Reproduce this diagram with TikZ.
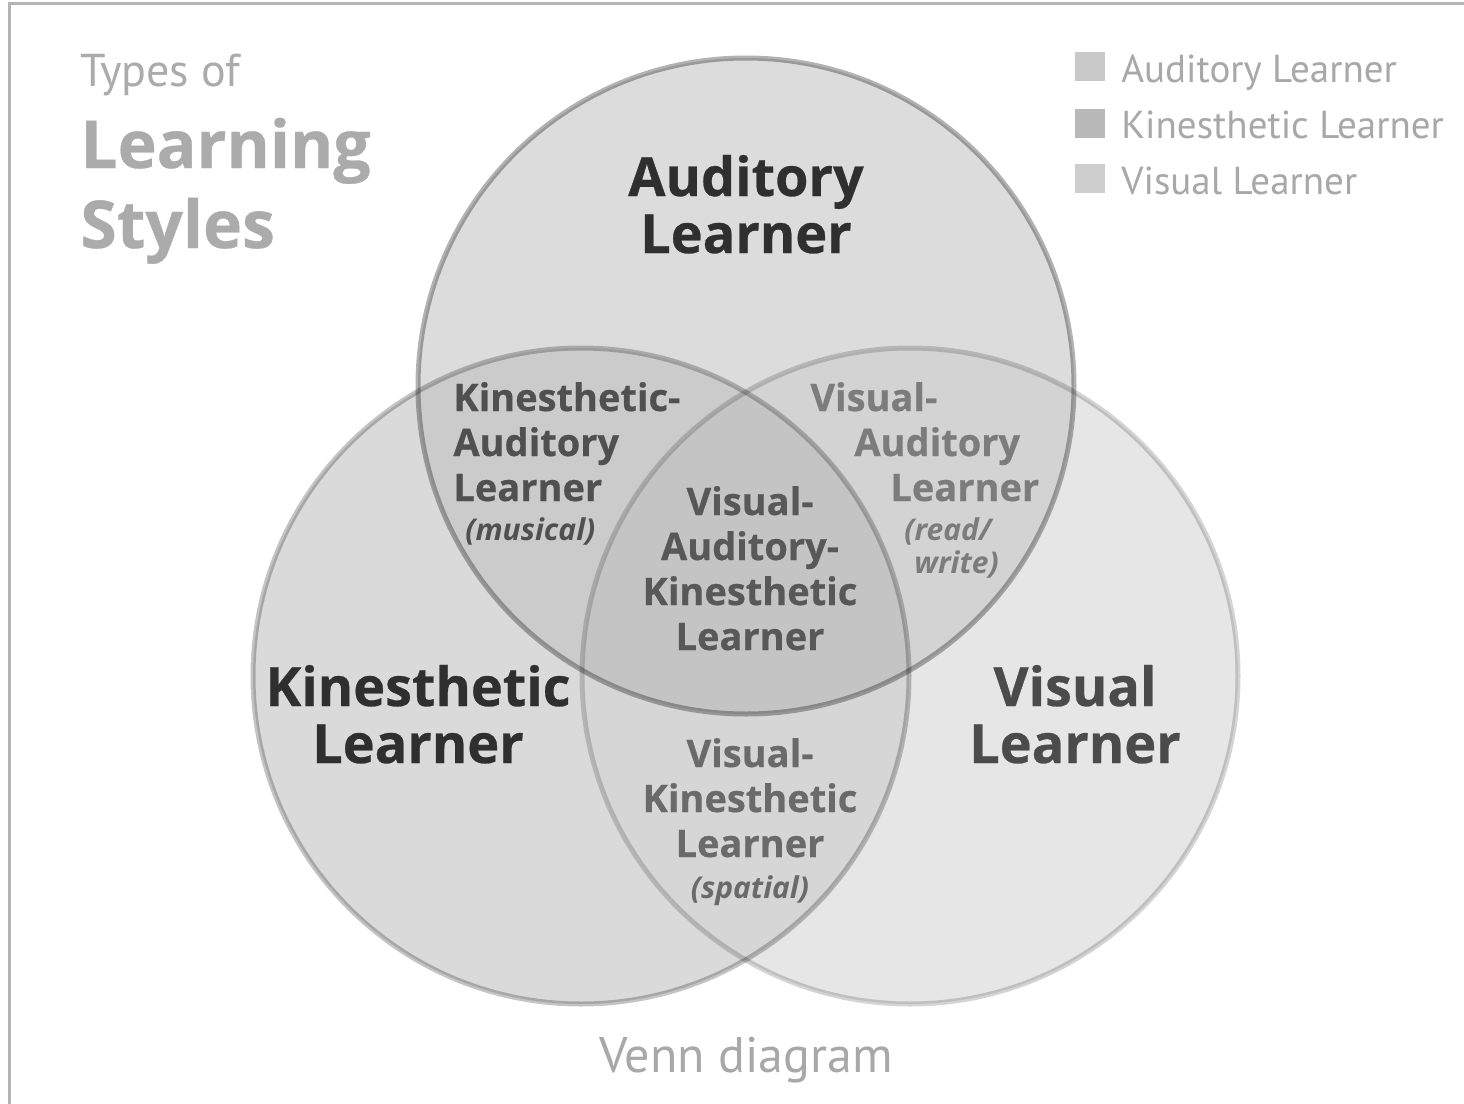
\documentclass[tikz,border=0pt]{standalone}
\usepackage{fontspec}
\setmainfont{Open Sans}[BoldFeatures={FakeBold=0.5}]
\newfontfamily\thinfont{PT Sans}
\usepackage{xcolor}
\definecolor{framegray}{HTML}{B4B4B4}
\definecolor{titlegray}{HTML}{ABABAB}
\definecolor{keygray}{HTML}{A8A8A8}
\definecolor{keyaud}{HTML}{C9C9C9}
\definecolor{keykin}{HTML}{B9B9B9}
\definecolor{keyvis}{HTML}{CECECE}
\definecolor{darktext}{HTML}{2F2F2F}
\definecolor{vistext}{HTML}{4B4B4B}
\definecolor{katext}{HTML}{505050}
\definecolor{vaktext}{HTML}{585858}
\definecolor{vatext}{HTML}{7C7C7C}
\definecolor{vktext}{HTML}{6A6A6A}
\definecolor{audfill}{HTML}{DCDCDC}
\definecolor{kinfill}{HTML}{DADADA}
\definecolor{visfill}{HTML}{E6E6E6}
\definecolor{kafill}{HTML}{CBCBCB}
\definecolor{vafill}{HTML}{D3D3D3}
\definecolor{vkfill}{HTML}{D6D6D6}
\definecolor{vakfill}{HTML}{C4C4C4}
\newcommand{\notefont}{\fontsize{15}{16.5}\selectfont\bfseries\itshape}
\def\audset{(746,386) circle[radius=164pt]}
\def\kinset{(581,676) circle[radius=164pt]}
\def\visset{(910,676) circle[radius=164pt]}

\begin{document}
\begin{tikzpicture}[x=0.5pt,y=-0.5pt,
	big/.style={font=\fontsize{27}{28.5}\selectfont\bfseries, align=center, anchor=base, inner sep=0pt},
	mid/.style={font=\fontsize{19}{22.5}\selectfont\bfseries, anchor=base, inner sep=0pt},
	key/.style={font=\thinfont\fontsize{19.5}{19.5}\selectfont, text=keygray, anchor=base west, inner sep=0pt},
	rim/.style={line width=2.5pt, draw=black}]
	\useasboundingbox (0,0) rectangle (1464,1104);
	\fill[white] (0,0) rectangle (1464,1104);
	\draw[framegray, line width=1.5pt] (9,1104) -- (9,3) -- (1464,3);

	% the three sets
	\fill[visfill] \visset;
	\fill[kinfill] \kinset;
	\fill[audfill] \audset;
	\begin{scope}
		\clip \audset;
		\fill[kafill] \kinset;
		\fill[vafill] \visset;
	\end{scope}
	\begin{scope}
		\clip \kinset;
		\fill[vkfill] \visset;
		\clip \audset;
		\fill[vakfill] \visset;
	\end{scope}
	\draw[rim, draw opacity=0.17] \visset;
	\draw[rim, draw opacity=0.23] \kinset;
	\draw[rim, draw opacity=0.30] \audset;

	% title
	\node[anchor=base west, inner sep=0pt, text=titlegray, font=\thinfont\fontsize{23}{23}\selectfont] (types) at (80,86) {Types of};
	\node[anchor=base west, inner sep=0pt, text=titlegray, align=left, font=\fontsize{33}{40}\selectfont\bfseries] (styles) at (80,248) {Learning\\Styles};

	% legend
	\fill[keyaud] (1075,52) rectangle (1105,81);
	\node[key] (kaud) at (1121,82) {Auditory Learner};
	\fill[keykin] (1075,109) rectangle (1105,138);
	\node[key] (kkin) at (1121,138) {Kinesthetic Learner};
	\fill[keyvis] (1075,164) rectangle (1105,193);
	\node[key] (kvis) at (1121,194) {Visual Learner};

	% single sets
	\node[big, text=darktext] (aud) at (746,253) {Auditory\\Learner};
	\node[big, text=darktext] (kin) at (418,763) {Kinesthetic\\Learner};
	\node[big, text=vistext] (vis) at (1075,763) {Visual\\Learner};

	% overlaps
	\node[mid, text=katext, align=left, anchor=base west] (ka) at (453,540)
		{Kinesthetic-\\Auditory\\Learner\\[-3pt]\hspace*{6pt}{\notefont (musical)}};
	\node[mid, text=vatext, align=left, anchor=base west] (va) at (810,573)
		{Visual-\\\hspace*{22pt}Auditory\\\hspace*{40pt}Learner\\[-3pt]
		\hspace*{47pt}{\notefont (read/}\\[-6pt]\hspace*{52pt}{\notefont write)}};
	\node[mid, text=vaktext, align=center] (vak) at (750,650)
		{Visual-\\Auditory-\\Kinesthetic\\Learner};
	\node[mid, text=vktext, align=center] (vk) at (750,898)
		{Visual-\\Kinesthetic\\Learner\\[-2pt]{\notefont (spatial)}};

	% caption
	\node[anchor=base, inner sep=0pt, text=keygray, font=\thinfont\fontsize{25}{25}\selectfont] (venn) at (746,1072) {Venn diagram};
\end{tikzpicture}
\end{document}
